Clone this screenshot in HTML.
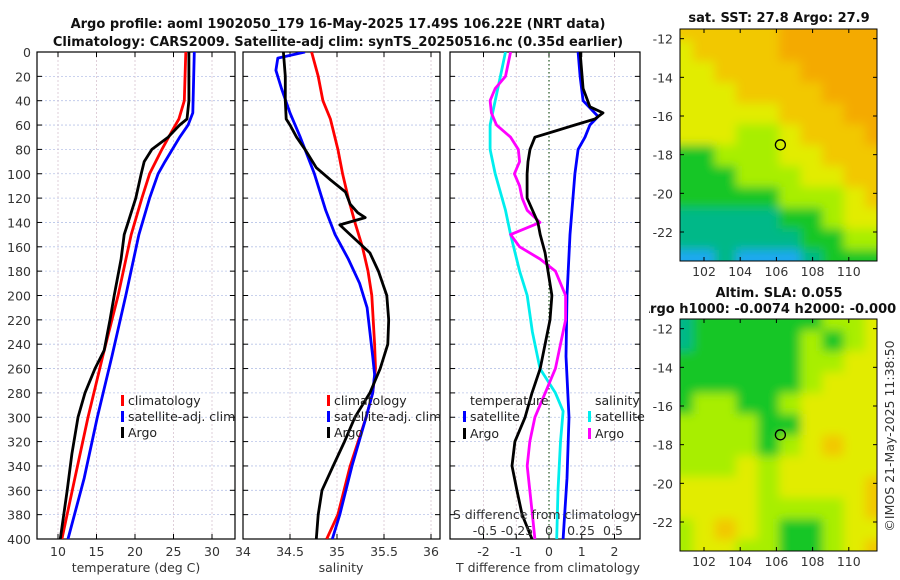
<!DOCTYPE html>
<html><head><meta charset="utf-8"><style>
body{margin:0;background:#fff}
svg{display:block;font-family:"DejaVu Sans","Liberation Sans",sans-serif}
.tk{font-size:12.5px;fill:#333}
.tt{font-size:13px;font-weight:bold;fill:#111}
.lg{font-size:12.5px;fill:#222}
</style></head><body>
<svg id="fig" width="900" height="580" viewBox="0 0 900 580">
<defs>
<clipPath id="c1"><rect x="37" y="52" width="198" height="487"/></clipPath>
<clipPath id="c2"><rect x="243" y="52" width="197" height="487"/></clipPath>
<clipPath id="c3"><rect x="450" y="52" width="190" height="487"/></clipPath>
<clipPath id="cm1"><rect x="680" y="29" width="197" height="232"/></clipPath>
<clipPath id="cm2"><rect x="680" y="319" width="197" height="232"/></clipPath>
<clipPath id="csub"><rect x="649" y="296" width="251" height="22"/></clipPath>
<filter id="bl" filterUnits="userSpaceOnUse" x="600" y="0" width="300" height="580"><feGaussianBlur stdDeviation="5"/></filter>
</defs>
<text class="tt" x="338" y="28" text-anchor="middle">Argo profile: aoml 1902050_179 16-May-2025 17.49S 106.22E (NRT data)</text>
<text class="tt" x="338" y="46" text-anchor="middle">Climatology: CARS2009. Satellite-adj clim: synTS_20250516.nc (0.35d earlier)</text>
<g id="p1"></g>
<g id="p2"></g>
<g id="p3"></g>
<g id="m1"></g>
<g id="m2"></g>
<text class="tt" x="779" y="22" text-anchor="middle">sat. SST: 27.8 Argo: 27.9</text>
<text class="tt" x="779" y="297" text-anchor="middle">Altim. SLA: 0.055</text>
<text class="tt" x="640" y="313" clip-path="url(#csub)">Argo h1000: -0.0074 h2000: -0.000</text>
<text class="tk" transform="translate(894,436) rotate(-90)" text-anchor="middle">©IMOS 21-May-2025 11:38:50</text>
</svg>
<script>
// ---- data ----
const depthTicks=[0,20,40,60,80,100,120,140,160,180,200,220,240,260,280,300,320,340,360,380,400];
const tTicks=[10,15,20,25,30];
const sTicks=[34,34.5,35,35.5,36];
const dTTicks=[-2,-1,0,1,2];
const dSTickLabels=["-0.5","-0.25","0","0.25","0.5"];
const dSTicks=[-0.5,-0.25,0,0.25,0.5];

const tBlackZ=[0,40,55,60,70,80,90,100,120,130,140,150,170,200,220,245,260,280,300,330,360,400];
const tBlack=[27.0,27.0,26.75,25.8,24.3,22.2,21.2,20.8,20.1,19.6,19.1,18.6,18.2,17.3,16.75,16.0,14.8,13.5,12.6,11.8,11.2,10.3];
const tClimZ=[0,40,55,65,80,100,120,150,200,250,300,350,400];
const tClim=[26.6,26.4,25.7,24.8,23.5,21.9,20.9,19.5,17.8,15.8,13.9,12.2,10.5];
const tSatZ=[0,50,60,70,90,100,120,150,200,250,300,350,400];
const tSat=[27.7,27.5,26.9,25.8,23.9,23.0,21.9,20.5,18.8,17.0,15.1,13.4,11.3];

const sClimZ=[0,20,40,55,80,100,120,140,160,180,200,240,260,280,300,340,380,400];
const sClim=[34.73,34.80,34.85,34.93,35.01,35.06,35.12,35.19,35.27,35.33,35.37,35.40,35.41,35.38,35.31,35.14,35.01,34.89];
const sSatZ=[0,5,15,30,50,70,100,130,150,170,190,210,230,250,265,280,300,340,380,400];
const sSat=[34.66,34.37,34.35,34.41,34.50,34.61,34.76,34.88,34.98,35.12,35.24,35.32,35.35,35.38,35.40,35.38,35.31,35.16,35.03,34.95];
const sArgoZ=[0,20,40,55,60,70,80,95,105,115,125,132,136,142,150,165,180,200,220,240,260,280,300,320,340,360,380,400];
const sArgo=[34.43,34.45,34.45,34.46,34.50,34.57,34.66,34.78,34.93,35.09,35.14,35.22,35.30,35.03,35.14,35.35,35.44,35.53,35.55,35.54,35.46,35.35,35.19,35.08,34.96,34.84,34.80,34.78];

const dTSatZ=[0,20,40,53,60,70,80,100,150,200,250,300,350,400];
const dTSat=[0.89,0.95,1.04,1.5,1.25,1.10,0.89,0.79,0.64,0.55,0.52,0.61,0.55,0.43];
const dTArgoZ=[0,30,45,50,55,60,65,70,80,90,100,120,140,150,165,180,200,220,240,260,280,300,320,340,360,380,400];
const dTArgo=[0.95,1.04,1.25,1.65,1.40,0.79,0.18,-0.43,-0.58,-0.64,-0.67,-0.67,-0.34,-0.27,-0.12,-0.03,0.09,0.03,-0.12,-0.27,-0.52,-0.73,-1.04,-1.13,-0.98,-0.82,-0.52];
const dSArgoZ=[0,20,30,40,50,60,70,80,90,100,110,120,130,140,150,160,170,180,200,220,240,260,280,300,320,340,360,380,400];
const dSArgo=[-0.30,-0.34,-0.42,-0.46,-0.45,-0.41,-0.30,-0.24,-0.23,-0.27,-0.23,-0.21,-0.17,-0.07,-0.30,-0.23,-0.07,0.05,0.13,0.13,0.09,0.05,-0.03,-0.11,-0.15,-0.17,-0.15,-0.13,-0.11];
const dSSatZ=[0,20,40,60,80,100,130,150,180,200,230,260,280,295,320,360,400];
const dSSat=[-0.34,-0.38,-0.42,-0.46,-0.46,-0.42,-0.34,-0.30,-0.23,-0.17,-0.13,-0.07,0.05,0.11,0.09,0.07,0.06];

const lonTicks=[102,104,106,108,110];
const latTicks=[-12,-14,-16,-18,-20,-22];
const sstGrid=[
[5,5,5,5,5,6,6,6,6,6],[4,5,5,5,5,6,6,6,6,6],[4,4,5,5,5,5,6,6,6,6],[4,4,4,5,5,5,5,6,6,6],
[4,4,4,4,4,5,5,5,6,6],[4,4,4,3,3,4,5,5,5,6],[2,2,3,3,3,4,4,5,5,5],[2,2,2,3,3,3,4,4,5,5],
[2,2,2,2,2,3,3,3,4,5],[1,1,1,1,1,2,2,3,4,4],[1,1,1,1,1,1,2,2,3,3],[0,0,1,0,0,0,1,2,2,2]];
const slaGrid=[
[1,2,2,2,2,2,2,3,3,4],[1,2,2,2,2,2,3,2,3,4],[2,2,2,2,2,2,3,3,4,4],[2,2,2,2,2,2,3,4,4,4],
[2,3,3,2,2,3,4,4,4,4],[3,3,3,3,2,2,4,4,4,4],[3,3,3,3,2,3,4,5,4,4],[3,3,3,4,3,4,4,4,4,4],
[4,4,4,4,3,4,4,4,4,5],[4,4,4,4,3,3,3,3,4,5],[3,4,5,4,3,2,2,3,4,4],[3,4,4,3,3,2,2,3,4,5]];
const argoLon=106.22, argoLat=-17.49;
const cmap=["#1aa8f0","#00b888","#12c628","#a8ee00","#e2ec00","#f2c800","#f4aa00"];

// ---- helpers ----
const NS="http://www.w3.org/2000/svg";
function mk(tag,attrs,parent){const e=document.createElementNS(NS,tag);for(const k in attrs)e.setAttribute(k,attrs[k]);parent.appendChild(e);return e;}
const Y0=52,Y1=539;
const yD=d=>Y0+d*(Y1-Y0)/400;

function panel(g,x0,x1,xf,ticks,labels,clip,showY){
  depthTicks.forEach(d=>{const l=mk('line',{x1:x0,x2:x1,y1:yD(d),y2:yD(d),stroke:'#b8c4e8','stroke-width':0.8,'stroke-dasharray':'2,2'},g);
    
    });
  ticks.forEach(t=>{const X=xf(t);const l=mk('line',{x1:X,x2:X,y1:Y0,y2:Y1,stroke:'#d8c4d0','stroke-width':0.8,'stroke-dasharray':'2,2'},g);
    
    });
  depthTicks.forEach(d=>{mk('line',{x1:x0,x2:x0+5,y1:yD(d),y2:yD(d),stroke:'#000'},g);mk('line',{x1:x1-5,x2:x1,y1:yD(d),y2:yD(d),stroke:'#000'},g);
    if(showY){const t=mk('text',{x:x0-6,y:yD(d)+5,'text-anchor':'end',class:'tk'},g);t.textContent=d;
      
      }});
  ticks.forEach((t,i)=>{const X=xf(t);mk('line',{x1:X,x2:X,y1:Y1,y2:Y1-5,stroke:'#000'},g);mk('line',{x1:X,x2:X,y1:Y0,y2:Y0+5,stroke:'#000'},g);
    if(labels){const tx=mk('text',{x:X,y:556,'text-anchor':'middle',class:'tk'},g);tx.textContent=labels[i];
      
      }});
  const fr=mk('rect',{x:x0,y:Y0,width:x1-x0,height:Y1-Y0,fill:'none',stroke:'#000','stroke-width':1.2},g);
  
  
}
function series(g,zs,vs,xf,color,clip,name){
  const pts=zs.map((z,i)=>xf(vs[i]).toFixed(1)+','+yD(z).toFixed(1)).join(' ');
  const p=mk('polyline',{points:pts,fill:'none',stroke:color,'stroke-width':2.8,'stroke-linejoin':'round','clip-path':'url(#'+clip+')'},g);
  
  
}
function legend(g,x,y,color,label,name){
  mk('rect',{x:x,y:y-10,width:3,height:11,fill:color},g);
  const t=mk('text',{x:x+7,y:y,class:'lg'},g);t.textContent=label;
  
  
}
function txt(g,x,y,s,anchor,name,cls){const t=mk('text',{x:x,y:y,'text-anchor':anchor,class:cls||'tk'},g);t.textContent=s;
  
  return t;}

// ---- panel 1 ----
const p1=document.getElementById('p1');
const xT=t=>58+(t-10)*7.7;
panel(p1,37,235,xT,tTicks,tTicks,'c1',true);
series(p1,tClimZ,tClim,xT,'#ff0000','c1','climatology-temperature-line');
series(p1,tSatZ,tSat,xT,'#0000ff','c1','satellite-temperature-line');
series(p1,tBlackZ,tBlack,xT,'#000000','c1','argo-temperature-line');
legend(p1,121,405,'#ff0000','climatology','legend-climatology');
legend(p1,121,421,'#0000ff','satellite-adj. clim','legend-satellite');
legend(p1,121,437,'#000000','Argo','legend-argo');
txt(p1,136,572,'temperature (deg C)','middle','x-axis-title-temperature');

// ---- panel 2 ----
const p2=document.getElementById('p2');
const xS=s=>243+(s-34)*94;
panel(p2,243,440,xS,sTicks,sTicks,'c2',false);
series(p2,sClimZ,sClim,xS,'#ff0000','c2','climatology-salinity-line');
series(p2,sSatZ,sSat,xS,'#0000ff','c2','satellite-salinity-line');
series(p2,sArgoZ,sArgo,xS,'#000000','c2','argo-salinity-line');
legend(p2,327,405,'#ff0000','climatology','legend-climatology');
legend(p2,327,421,'#0000ff','satellite-adj. clim','legend-satellite');
legend(p2,327,437,'#000000','Argo','legend-argo');
txt(p2,341,572,'salinity','middle','x-axis-title-salinity');

// ---- panel 3 ----
const p3=document.getElementById('p3');
const xdT=t=>549+t*32.75;
const xdS=s=>549+s*128;
panel(p3,450,640,xdT,dTTicks,dTTicks,'c3',false);
const zl=mk('line',{x1:549,x2:549,y1:Y0,y2:Y1,stroke:'#336633','stroke-width':1.3,'stroke-dasharray':'1.5,2.5'},p3);


series(p3,dSSatZ,dSSat,xdS,'#00eeee','c3','satellite-salinity-diff-line');
series(p3,dTSatZ,dTSat,xdT,'#0000ff','c3','satellite-temperature-diff-line');
series(p3,dSArgoZ,dSArgo,xdS,'#ff00ff','c3','argo-salinity-diff-line');
series(p3,dTArgoZ,dTArgo,xdT,'#000000','c3','argo-temperature-diff-line');
txt(p3,470,405,'temperature','start','legend-temperature-heading','lg');
legend(p3,463,421,'#0000ff','satellite','legend-t-satellite');
legend(p3,463,438,'#000000','Argo','legend-t-argo');
txt(p3,595,405,'salinity','start','legend-salinity-heading','lg');
legend(p3,588,421,'#00eeee','satellite','legend-s-satellite');
legend(p3,588,438,'#ff00ff','Argo','legend-s-argo');
txt(p3,545,519,'S difference from climatology','middle','s-diff-axis-title');
dSTicks.forEach((s,i)=>{txt(p3,xdS(s),535,dSTickLabels[i],'middle','s-diff-tick-label');});
txt(p3,548,572,'T difference from climatology','middle','t-diff-axis-title');

// ---- maps ----
function map(gid,grid,top,bot,clip,name){
  const g=document.getElementById(gid);
  const xL=l=>704+(l-102)*18.1;
  const lat0=-11.5,lat1=-23.5;
  const yL=la=>top+(la-lat0)/(lat1-lat0)*(bot-top);
  const cells=mk('g',{'clip-path':'url(#'+clip+')'},g);
  const inner=mk('g',{filter:'url(#bl)'},cells);
  const nR=grid.length,nC=grid[0].length;
  const lonA=100.2,lonB=112.1,latA=-11.0,latB=-24.0;
  grid.forEach((row,r)=>row.forEach((v,c)=>{
    const x0=xL(lonA+(lonB-lonA)*c/nC),x1=xL(lonA+(lonB-lonA)*(c+1)/nC);
    const y0=yL(latA+(latB-latA)*r/nR),y1=yL(latA+(latB-latA)*(r+1)/nR);
    const rc=mk('rect',{x:x0,y:y0,width:x1-x0+1,height:y1-y0+1,fill:cmap[v]},inner);
    
    
  }));
  const fr=mk('rect',{x:680,y:top,width:197,height:bot-top,fill:'none',stroke:'#000','stroke-width':1},g);
  
  
  lonTicks.forEach(l=>{const X=xL(l);mk('line',{x1:X,x2:X,y1:bot,y2:bot-4,stroke:'#000'},g);mk('line',{x1:X,x2:X,y1:top,y2:top+4,stroke:'#000'},g);
    txt(g,X,bot+15,l,'middle','lon-tick-label');});
  latTicks.forEach(la=>{const Y=yL(la);mk('line',{x1:680,x2:684,y1:Y,y2:Y,stroke:'#000'},g);mk('line',{x1:873,x2:877,y1:Y,y2:Y,stroke:'#000'},g);
    txt(g,673,Y+5,la,'end','lat-tick-label');});
  const c=mk('circle',{cx:xL(argoLon),cy:yL(argoLat),r:5,fill:'none',stroke:'#000','stroke-width':1.3},g);
  
  
}
map('m1',sstGrid,29,261,'cm1','sst-map');
map('m2',slaGrid,319,551,'cm2','sla-map');
</script>
</body></html>
